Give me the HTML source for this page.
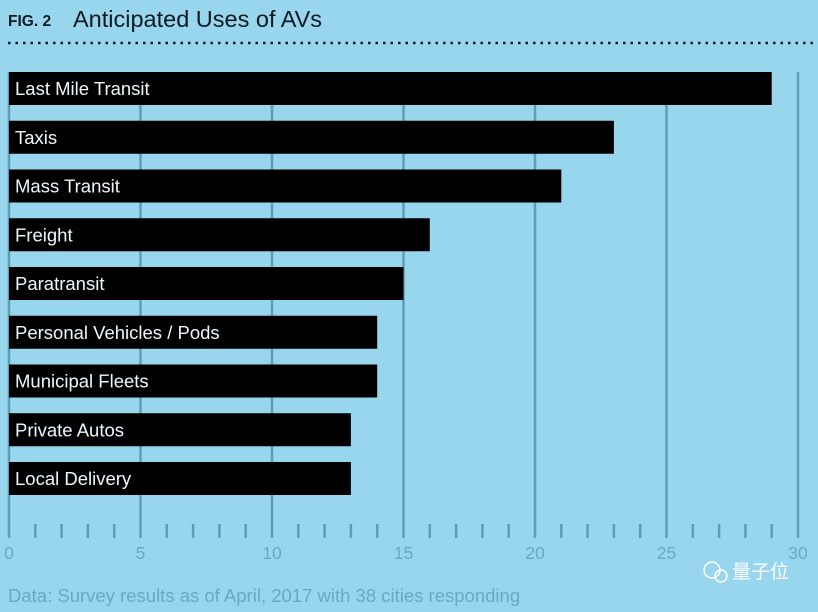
<!DOCTYPE html>
<html><head><meta charset="utf-8"><style>
body{margin:0;background:#98d6ee;}
svg text{font-family:"Liberation Sans","Noto Sans CJK SC",sans-serif;}
</style></head><body>
<svg width="818" height="607" xmlns="http://www.w3.org/2000/svg">
<rect width="818" height="607" fill="#98d6ee"/>
<text x="8" y="26" font-size="15.5" font-weight="bold" fill="#0d1a22">FIG. 2</text>
<text x="73" y="27" font-size="23.5" fill="#0d1a22">Anticipated Uses of AVs</text>
<line x1="8" y1="43" x2="818" y2="43" stroke="#0d1a22" stroke-width="2.5" stroke-dasharray="2.5,5"/>
<g id="grid"></g><g id="bars"></g><g id="ticks"></g>
<text x="8" y="602" font-size="18.5" fill="#6aa9c0">Data: Survey results as of April, 2017 with 38 cities responding</text>
<text x="732" y="578" font-size="19" fill="#ffffff">量子位</text>
<circle cx="712" cy="570" r="8" fill="none" stroke="#fff" stroke-width="1.5"/>
<circle cx="721" cy="576" r="6" fill="none" stroke="#fff" stroke-width="1.5"/>
</svg>
<script>
const categories=["Last Mile Transit","Taxis","Mass Transit","Freight","Paratransit","Personal Vehicles / Pods","Municipal Fleets","Private Autos","Local Delivery"];
const values=[29,23,21,16,15,14,14,13,13];
const tickLabels=[0,5,10,15,20,25,30];
const NS="http://www.w3.org/2000/svg";
const x=v=>9+v*26.3;
const y=i=>72+i*48.75;
function mk(t,a,p){const e=document.createElementNS(NS,t);for(const k in a)e.setAttribute(k,a[k]);document.getElementById(p).appendChild(e);return e;}
for(let v=0;v<=30;v++){
  const major=v%5===0;
  const l=mk('line',{x1:x(v),x2:x(v),y1:major?72:524,y2:538,stroke:'#5f9cb5','stroke-width':2.5},major?'grid':'ticks');
  
  
}
tickLabels.forEach(v=>{
  const t=mk('text',{x:x(v),y:559,'font-size':17.5,fill:'#6aa9c0','text-anchor':'middle'},'ticks');
  t.textContent=v;
  
  
});
categories.forEach((c,i)=>{
  const r=mk('rect',{x:x(0),y:y(i),width:x(values[i])-x(0),height:33,fill:'#000'},'bars');
  
  
  const t=mk('text',{x:15,y:y(i)+23,'font-size':18.5,fill:'#eef8fc'},'bars');
  t.textContent=c;
  
  
});
</script>
</body></html>
